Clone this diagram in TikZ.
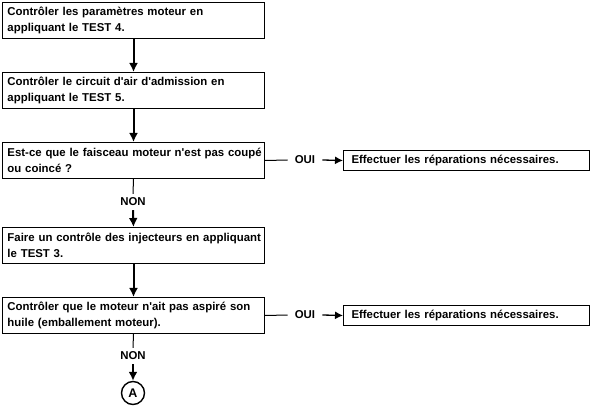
\documentclass[tikz,border=0pt]{standalone}
\usepackage{fontspec}
\setmainfont{Liberation Sans}
\usetikzlibrary{%
  arrows.meta,% wg. Latex[...]
  positioning%
}
\hyphenpenalty=10000

\begin{document}
\begin{tikzpicture}[x=1pt,y=-1pt,action/.style={
	rectangle,
	anchor=north west,
	text width=252pt,
	minimum height=36pt,
	inner xsep=5pt,
	inner ysep=0pt,
	align=left,
	line width=1pt,
	draw=black,
	font=\fontsize{11.4}{16}\selectfont\bfseries
	},repair/.style={
	rectangle,anchor=north west,
	text width=230pt,minimum height=20pt,
	inner xsep=8pt,inner ysep=0pt,align=left,
	line width=1pt,draw=black,
	font=\fontsize{11.4}{16}\selectfont\bfseries
	},answer/.style={
	inner xsep=7pt,inner ysep=4pt,
	font=\fontsize{11.4}{16}\selectfont\bfseries
	},stepto/.style={
	-{Latex[length=9pt,width=9pt]},line width=2pt
	},sideto/.style={
	-{Latex[length=8pt,width=8pt]},line width=1.3pt
	},plain/.style={
	line width=1pt
	}
]

\useasboundingbox (0,0) rectangle (592,414);

% left column
\node (test4) [action] at (2,2) {Contrôler les paramètres moteur en\\ appliquant le TEST 4.};
\node (test5) [action] at (2,72) {Contrôler le circuit d\textquotesingle air d\textquotesingle admission en\\ appliquant le TEST 5.};
\node (faisceau) [action] at (2,142) {\mbox{Est-ce que le faisceau moteur n\textquotesingle est pas coupé}\\ ou coincé ?};
\node (test3) [action] at (2,227) {\mbox{Faire un contrôle des injecteurs en appliquant}\\ le TEST 3.};
\node (huile) [action] at (2,297) {\mbox{Contrôler que le moteur n\textquotesingle ait pas aspiré son}\\ huile (emballement moteur).};
\node (ptA) [circle,draw,line width=1.4pt,minimum size=23pt,inner sep=0pt,
	font=\fontsize{12.5}{16}\selectfont\bfseries] at (133,393) {A};

% right column
\node (rep1) [repair] at (343,150) {Effectuer les réparations nécessaires.};
\node (rep2) [repair] at (343,305) {Effectuer les réparations nécessaires.};

% answers
\node (oui1) [answer] at (305,160) {OUI};
\node (non1) [answer] at (133,202) {NON};
\node (oui2) [answer] at (305,315) {OUI};
\node (non2) [answer] at (133,356) {NON};

\draw[stepto] (test4) -- (test5);
\draw[stepto] (test5) -- (faisceau);
\draw[plain] (faisceau.east) -- (oui1.west);
\draw[sideto] (oui1.east) -- (rep1.west);
\draw[plain] (faisceau.south) -- (non1.north);
\draw[stepto] (non1.south) -- (test3.north);
\draw[stepto] (test3) -- (huile);
\draw[plain] (huile.east) -- (oui2.west);
\draw[sideto] (oui2.east) -- (rep2.west);
\draw[plain] (huile.south) -- (non2.north);
\draw[stepto] (non2.south) -- (ptA.north);

\end{tikzpicture}
\end{document}
